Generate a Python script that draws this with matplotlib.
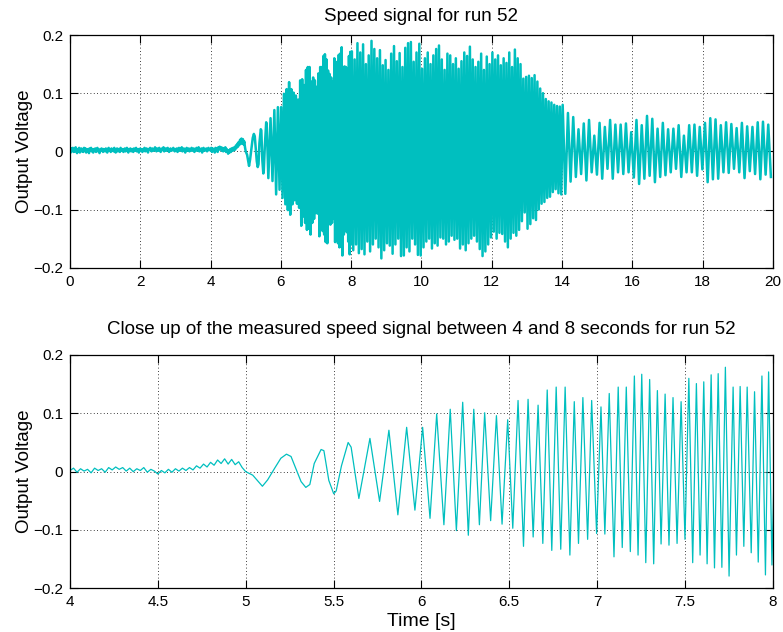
import numpy as np
import matplotlib
matplotlib.use("Agg")
import matplotlib.pyplot as plt

# ================= DATA (mV) =================
# quiet part 0 .. 4.98 s, one value every 0.02 s
noise_step = 0.02
noise_mv = [
    3, -2, 5, 1, 6, -1, 4, 0, 7, 2, -3, 4, 1, 6, -2, 3, 5, 0, 4, -1, 6, 2, 5, -2, 3,
    1, 4, -3, 5, 2, 6, 0, 3, -2, 4, 1, 5, -1, 3, 6, 0, 2, -3, 4, 1, 5, 2, -1, 4, 3,
    0, 5, 2, -2, 4, 6, 1, 3, -1, 5, 2, 4, 0, 6, 1, -2, 3, 5, 0, 4, 2, -1, 6, 3, 1,
    4, -1, 3, 5, 0, 2, 6, 1, -2, 4, 3, 5, 0, 2, 4, -1, 5, 3, 1, 6, 0, 3, 4, -2, 2,
    5, 1, 3, -1, 4, 2, 6, 0, 3, 5, 1, -2, 4, 3, 6, 2, 0, 5, 3, 1, 4, 7, 2, 0, 5,
    3, 1, 6, 2, -1, 4, 5, 2, 7, 0, 3, 5, 1, 4, 6, 2, -1, 3, 5, 1, 4, 2, 6, 3, 0,
    4, 2, 5, -1, 3, 6, 1, 4, 2, 7, 0, 3, 5, 2, -2, 4, 6, 1, 3, 5, 0, 4, 2, 6, 1,
    3, 5, -1, 4, 2, 6, 1, 3, 7, 0, 4, 2, 5, -2, 3, 6, 1, 4, 2, 5, 0, 3, 6, 2, 4,
    2, 6, -1, 5, 1, 4, -2, 6, 2, 5, -1, 7, 3, 8, 4, 7, 1, 6, 0, 5, 2, 7, -1, 4, 1,
    -4, 2, -2, 4, -1, 5, 1, 6, 2, 7, 3, 10, 6, 13, 8, 16, 11, 20, 14, 22, 13, 21, 12, 17, 7,
]

# run-up 5 .. 8 s: turning points (time, value)
runup_t = [
    5.000, 5.040, 5.095, 5.125, 5.165, 5.200, 5.232, 5.258, 5.290, 5.315,
    5.342, 5.365, 5.390, 5.429, 5.445, 5.473, 5.501, 5.515, 5.545, 5.583,
    5.600, 5.644, 5.707, 5.762, 5.815, 5.866, 5.916, 5.963, 6.007, 6.049,
    6.087, 6.128, 6.164, 6.199, 6.235, 6.267, 6.298, 6.330, 6.360, 6.394,
    6.427, 6.459, 6.491, 6.520, 6.550, 6.581, 6.607, 6.636, 6.664, 6.691,
    6.716, 6.742, 6.767, 6.793, 6.818, 6.845, 6.870, 6.894, 6.919, 6.946,
    6.969, 6.997, 7.022, 7.044, 7.069, 7.096, 7.120, 7.143, 7.166, 7.189,
    7.212, 7.233, 7.254, 7.277, 7.299, 7.322, 7.343, 7.364, 7.387, 7.409,
    7.432, 7.455, 7.478, 7.500, 7.522, 7.544, 7.565, 7.586, 7.607, 7.626,
    7.649, 7.668, 7.689, 7.710, 7.730, 7.751, 7.774, 7.793, 7.814, 7.835,
    7.854, 7.877, 7.896, 7.917, 7.938, 7.958, 7.976, 7.995,
]
runup_mv = [
    0, -6, -25, -14, 6, 23, 30, 26, 2, -17,
    -27, -22, 14, 38, 36, -15, -38, -33, 10, 50,
    42, -46, 57, -51, 71, -74, 76, -66, 76, -80,
    99, -91, 107, -101, 119, -109, 107, -91, 101, -84,
    96, -90, 89, -97, 122, -128, 124, -112, 114, -123,
    140, -135, 145, -133, 145, -143, 120, -123, 127, -116,
    122, -106, 111, -107, 134, -146, 145, -130, 145, -137,
    164, -143, 167, -156, 158, -158, 139, -124, 133, -126,
    127, -123, 120, -116, 160, -156, 151, -143, 154, -158,
    166, -165, 168, -164, 179, -179, 145, -143, 146, -128,
    145, -139, 137, -155, 164, -177, 171, -160,
]

# full speed 8 .. 14 s: peaks every 0.08 s from 8.02, troughs from 8.06
dense_step = 0.08
dense_peaks_mv = [
    172, 158, 186, 170, 184, 150, 165, 190, 176, 160, 174, 148, 157, 140, 168,
    181, 155, 169, 145, 178, 186, 188, 154, 170, 185, 142, 160, 170, 150, 165,
    176, 182, 158, 140, 168, 165, 150, 160, 142, 155, 170, 164, 180, 158, 145,
    154, 168, 140, 163, 150, 170, 158, 165, 148, 160, 152, 170, 145, 175, 160,
    150, 125, 128, 130, 126, 131, 120, 108, 100, 90, 86, 84, 80, 78, 77,
]
dense_troughs_mv = [
    -170, -160, -175, -168, -177, -155, -172, -160, -150, -165, -184, -170, -158, -162, -176,
    -160, -150, -180, -179, -165, -172, -150, -160, -178, -179, -165, -155, -150, -167, -158,
    -162, -148, -150, -160, -155, -145, -152, -150, -167, -160, -170, -158, -150, -145, -155,
    -168, -180, -172, -160, -148, -138, -150, -140, -142, -155, -165, -150, -140, -145, -135,
    -120, -105, -133, -125, -115, -118, -100, -90, -87, -80, -78, -70, -65, -72, -74,
]

# run-down 14 .. 20 s: peaks every 0.15 s from 14.02, troughs from 14.095
tail_step = 0.15
tail_peaks_mv = [
    80, 66, 59, 38, 48, 54, 27, 49, 42, 54, 46, 46, 48, 33, 54, 45, 61, 56, 39, 49,
    38, 39, 45, 27, 45, 46, 42, 49, 57, 55, 45, 50, 47, 40, 49, 43, 42, 50, 51, 46,
]
tail_troughs_mv = [
    -73, -52, -44, -39, -50, -36, -40, -47, -30, -47, -36, -39, -36, -45, -56, -47, -42, -53, -44, -41,
    -36, -30, -44, -36, -36, -42, -31, -53, -48, -47, -36, -37, -30, -36, -46, -34, -39, -48, -40, -44,
]

# ================= BUILD SIGNAL =================
def interleave(t_first, step, highs, lows):
    t_hi = t_first + step * np.arange(len(highs))
    t_lo = t_hi + step / 2
    t = np.empty(2 * len(highs))
    v = np.empty(2 * len(highs))
    t[0::2], t[1::2] = t_hi, t_lo
    v[0::2], v[1::2] = highs, lows
    return t, v

t_noise = noise_step * np.arange(len(noise_mv))
t_dense, v_dense = interleave(8.02, dense_step, dense_peaks_mv, dense_troughs_mv)
t_tail, v_tail = interleave(14.02, tail_step, tail_peaks_mv, tail_troughs_mv)

time = np.concatenate([t_noise, runup_t, t_dense, t_tail])
volt = np.concatenate([noise_mv, runup_mv, v_dense, v_tail]) / 1000.0

# ================= PLOT =================
plt.rcParams['font.family'] = ['Liberation Sans', 'DejaVu Sans']
line_color = '#00BFBF'

fig = plt.figure(figsize=(7.83, 6.32), dpi=100)
ax1 = fig.add_axes([0.0894, 0.5764, 0.8976, 0.3682])
ax2 = fig.add_axes([0.0894, 0.0691, 0.8976, 0.3692])

ax1.plot(time, volt, color=line_color, linewidth=1.8)
ax1.set_xlim(0, 20)
ax1.set_xticks(np.arange(0, 21, 2))
ax1.set_title('Speed signal for run 52', fontsize=13.5, pad=10)

ax2.plot(time, volt, color=line_color, linewidth=0.9)
ax2.set_xlim(4, 8)
ax2.set_xticks(np.arange(4, 8.01, 0.5))
ax2.set_xticklabels(['4', '4.5', '5', '5.5', '6', '6.5', '7', '7.5', '8'])
ax2.set_title('Close up of the measured speed signal between 4 and 8 seconds for run 52',
              fontsize=13.5, pad=15)
ax2.set_xlabel('Time [s]', fontsize=14, labelpad=3)

for ax in (ax1, ax2):
    ax.set_ylim(-0.2, 0.2)
    ax.set_yticks([-0.2, -0.1, 0, 0.1, 0.2])
    ax.set_yticklabels(['\u22120.2', '\u22120.1', '0', '0.1', '0.2'])
    ax.set_ylabel('Output Voltage', fontsize=13.5, labelpad=0)
    ax.grid(True, linestyle=(0, (1, 3)), color='black', linewidth=0.6)
    ax.tick_params(direction='in', length=5.5, width=0.8, top=True, right=True,
                   labelsize=11, pad=5)
    for s in ax.spines.values():
        s.set_linewidth(0.9)

fig.savefig('out.png', dpi=100)
